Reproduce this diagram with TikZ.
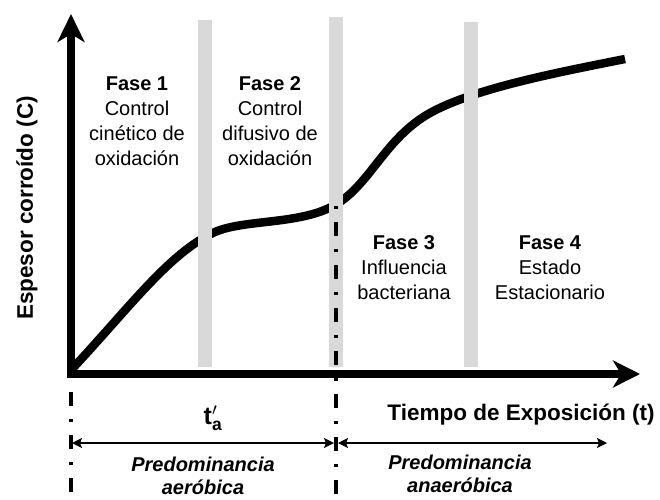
\documentclass[tikz,border=0pt]{standalone}
\usepackage{fontspec}
\setmainfont{Liberation Sans}
\usetikzlibrary{arrows.meta}
\definecolor{barra}{HTML}{D9D9D9}
\tikzset{
  fase/.style={align=center,font=\fontsize{20}{25}\selectfont},
  titulo/.style={font=\bfseries\fontsize{22.5}{27}\selectfont},
  regimen/.style={align=center,font=\bfseries\itshape\fontsize{20}{23}\selectfont},
  eje/.style={line width=8pt,line join=miter},
  franja/.style={fill=barra,draw=none},
  puntoraya/.style={line width=4pt,dash pattern=on 14pt off 13pt on 3pt off 13pt},
  rango/.style={line width=2.5pt,{Stealth[length=10pt,width=10pt,inset=2pt]}-{Stealth[length=10pt,width=10pt,inset=2pt]}}
}
\begin{document}
\begin{tikzpicture}[x=1pt,y=-1pt]
\useasboundingbox (0,0) rectangle (660,499);
% puntos de referencia
\coordinate (O) at (71,374);
\coordinate (ytip) at (71,14);
\coordinate (xtip) at (640,374);
\coordinate (l1a) at (71,392);
\coordinate (l1b) at (71,499);
\coordinate (l2a) at (336,206);
\coordinate (l2b) at (336,499);
\coordinate (r1a) at (72,443);
\coordinate (r1b) at (334,443);
\coordinate (r2a) at (338,443);
\coordinate (r2b) at (607,443);
% curva de espesor
\draw[line width=8.5pt,line cap=butt,line join=round] (72,369) .. controls (130,307) and (170,252) .. (215,232)
  .. controls (245,219) and (300,225) .. (335,205)
  .. controls (370,185) and (385,138) .. (430,113)
  .. controls (475,88) and (560,72) .. (625,59);
% franjas entre fases
\fill[franja] (198,20) rectangle (212,367);
\fill[franja] (329,17) rectangle (343,367);
\fill[franja] (464,22) rectangle (478,367);
% lineas de t'a
\draw[puntoraya] (l1a) -- (l1b);
\draw[puntoraya,dash phase=27pt] (l2a) -- (l2b);
% ejes
\draw[eje,{Stealth[length=28pt,width=27pt,inset=8pt]}-{Stealth[length=27pt,width=27pt,inset=8pt]}] (ytip) -- (O) -- (xtip);
% fases
\node[fase] (f1) at (137,121) {\textbf{Fase 1}\\Control\\cinético de\\oxidación};
\node[fase] (f2) at (270,121) {\textbf{Fase 2}\\Control\\difusivo de\\oxidación};
\node[fase] (f3) at (404,268) {\textbf{Fase 3}\\Influencia\\bacteriana};
\node[fase] (f4) at (550,268) {\textbf{Fase 4}\\Estado\\Estacionario};
% rotulos de ejes
\node[titulo,rotate=90] (ylab) at (27,208) {Espesor corroído (C)};
\node[titulo] (xlab) at (521,415) {Tiempo de Exposición (t)};
\node[font=\fontsize{25}{28}\selectfont] (ta) at (213,418) {$\mathbf{t}'_{\mathbf{a}}$};
% intervalos
\draw[rango] (r1a) -- (r1b);
\draw[rango] (r2a) -- (r2b);
\node[regimen] (aer) at (203,476) {Predominancia\\aeróbica};
\node[regimen] (ana) at (460,474) {Predominancia\\anaeróbica};
\end{tikzpicture}
\end{document}
